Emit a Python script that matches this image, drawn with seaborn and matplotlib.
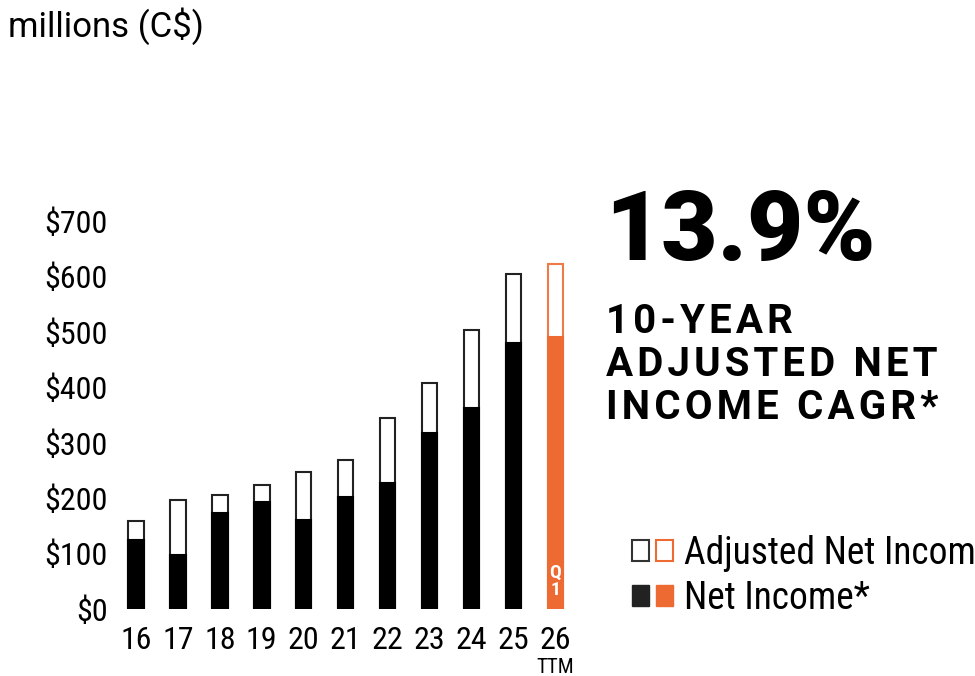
import seaborn as sns
import matplotlib.pyplot as plt
from matplotlib.patches import Patch
from matplotlib.legend_handler import HandlerTuple

# fiscal years and values in millions C$
years = ["16", "17", "18", "19", "20", "21", "22", "23", "24", "25", "26"]
adjusted_net_income = [158, 196, 205, 224, 248, 269, 345, 407, 504, 604, 623]
net_income = [125, 98, 173, 194, 161, 203, 227, 318, 363, 480, 490]
y_ticks = [0, 100, 200, 300, 400, 500, 600, 700]

ORANGE = "#EE6A33"
bar_colors = ["black"] * 10 + [ORANGE]
edge_colors = ["#222222"] * 10 + ["#F07A45"]

sns.set_style("white")
plt.rcParams["font.family"] = ["Roboto Condensed", "Roboto", "DejaVu Sans"]
plt.rcParams["text.color"] = "black"
plt.rcParams["xtick.color"] = "black"
plt.rcParams["ytick.color"] = "black"

fig = plt.figure(figsize=(9.75, 6.76), dpi=100)
ax = fig.add_axes([0.118, 0.099, 0.473, 0.574])

# adjusted net income: open boxes
sns.barplot(x=years, y=adjusted_net_income, color="white", saturation=1,
            width=0.37, linewidth=1.5, ax=ax)
for patch, ec in zip(ax.patches, edge_colors):
    patch.set_edgecolor(ec)
n_adj = len(ax.patches)

# net income: filled bars drawn on top
sns.barplot(x=years, y=net_income, hue=years, palette=bar_colors, saturation=1,
            legend=False, width=0.37, linewidth=1.5, ax=ax)
for patch in ax.patches[n_adj:]:
    patch.set_edgecolor(patch.get_facecolor())

ax.set_ylim(0, 700)
ax.set_yticks(y_ticks)
ax.set_yticklabels([f"${v}" for v in y_ticks])
ax.tick_params(axis="both", length=0, labelsize=23)
ax.tick_params(axis="y", pad=5)
ax.tick_params(axis="x", pad=12)
ax.set_xlabel("")
ax.set_ylabel("")
sns.despine(ax=ax, left=True, bottom=True)

ax.text(10, 50, "Q\n1", ha="center", va="center", color="white",
        fontsize=14, fontweight="bold", linespacing=0.95)
ax.annotate("TTM", xy=(10, 0), xycoords=("data", "axes fraction"),
            xytext=(0, -42), textcoords="offset points",
            ha="center", va="center", fontsize=15)

fig.text(0.008, 1 - 37 / 676, "millions (C$)", va="baseline", fontsize=25,
         family="Roboto")

fig.text(605 / 975, 1 - 260 / 676, "13.9%", va="baseline", fontsize=70,
         fontweight="black", family="Roboto")
# letter-spaced headline (hair spaces between letters)
for i, line in enumerate(["10-YEAR", "ADJUSTED NET", "INCOME CAGR*"]):
    spaced = "\u200a".join(line)
    fig.text(606 / 975, 1 - (333 + 43 * i) / 676, spaced, va="baseline",
             fontsize=29, fontweight="bold", family=["Roboto", "DejaVu Sans"])

handles = [
    (Patch(facecolor="white", edgecolor="#333333", linewidth=1.5),
     Patch(facecolor="white", edgecolor=ORANGE, linewidth=1.5)),
    (Patch(facecolor="#222222", edgecolor="#222222"),
     Patch(facecolor=ORANGE, edgecolor=ORANGE)),
]
fig.legend(handles, ["Adjusted Net Income", "Net Income*"],
           handler_map={tuple: HandlerTuple(ndivide=None, pad=0.17)},
           loc="upper left", bbox_to_anchor=(632 / 975, 1 - 535 / 676),
           frameon=False, fontsize=27, borderpad=0, borderaxespad=0,
           handlelength=1.1, handleheight=0.48, handletextpad=0.28,
           labelspacing=0.22)

fig.savefig("out.png", dpi=100)
